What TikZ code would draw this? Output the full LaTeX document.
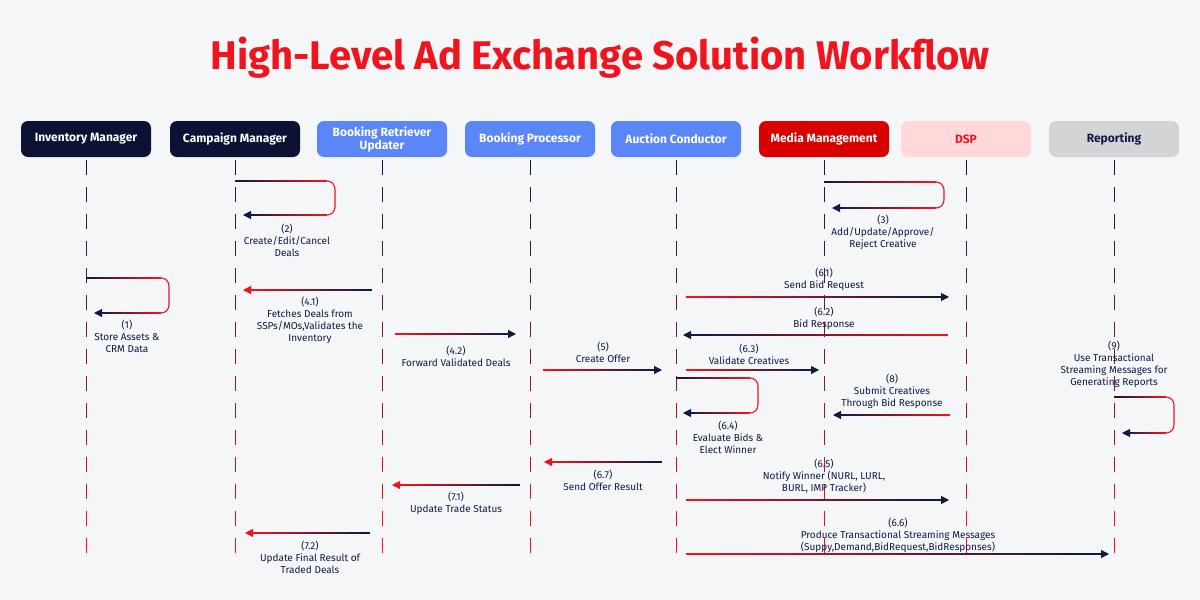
\documentclass[tikz,border=0pt]{standalone}
\usepackage{fontspec}
\setmainfont{Fira Sans}
\usetikzlibrary{calc,arrows.meta}
\definecolor{nav}{HTML}{0F1A45}
\definecolor{rd}{HTML}{F0141E}
\definecolor{bg}{HTML}{F5F6F8}
\definecolor{dk}{HTML}{0B1233}
\definecolor{bl}{HTML}{5B86F7}
\definecolor{mm}{HTML}{D90000}
\definecolor{dsp}{HTML}{FFD9D9}
\definecolor{rep}{HTML}{D3D4D6}
\newcommand\gseg[4]{\foreach \i in {0,...,11}{\pgfmathsetmacro\a{\i/12}\pgfmathsetmacro\b{(\i+1)/12}\pgfmathtruncatemacro\p{100-\i*100/11}
 \draw[line width=1.1pt,color=#3!\p!#4] ($(#1)!\a!(#2)$) -- ($(#1)!\b!(#2)$);}}
\newcommand\garr[4]{\gseg{#1}{$(#1)!0.97!(#2)$}{#3}{#4}\draw[line width=1.1pt,#4,-{Triangle[length=8pt,width=8pt]}] ($(#1)!0.96!(#2)$) -- (#2);}
\newcommand\gloop[4]{% start, right x, bottom y, end x
 \coordinate (ls) at (#1);
 \coordinate (lt) at ($(#1-|#2,0)+(-8,0)$);
 \coordinate (lb) at ($(#2,#3)+(-8,0)$);
 \coordinate (le) at (#4,#3);
 \gseg{ls}{lt}{nav}{rd}
 \draw[line width=1.1pt,rd,rounded corners=8pt] (lt) -- (#2,0|-ls) -- (#2,#3) -- (lb);
 \garr{lb}{le}{rd}{nav}}
\tikzset{hd/.style={rounded corners=7pt,minimum width=130pt,minimum height=36pt,align=center,font=\bfseries\fontsize{12}{13}\selectfont},
 lb/.style={align=center,text=nav,font=\fontsize{10}{12}\selectfont,inner sep=0}}
\begin{document}
\begin{tikzpicture}[x=1pt,y=-1pt]
\fill[bg] (0,0) rectangle (1200,600);
\node[text=rd,font=\bfseries\fontsize{40}{42}\selectfont] (title) at (600,58) {High-Level Ad Exchange Solution Workflow};
\foreach \n/\x/\f/\t/\s in {im/86/dk/white/Inventory Manager,cm/235/dk/white/Campaign Manager,br/382/bl/white/{Booking Retriever\\Updater},bp/530/bl/white/Booking Processor,ac/676/bl/white/Auction Conductor,md/824/mm/white/Media Management,ds/966/dsp/rd/DSP,rp/1114/rep/nav/Reporting}{
 \node[hd,fill=\f,text=\t] (\n) at (\x,139) {\s};
 \foreach \k in {0,...,14}{\pgfmathsetmacro\ya{160+\k*27}\pgfmathsetmacro\yb{min(\ya+15,568)}\pgfmathtruncatemacro\p{100-\k*100/14}
  \draw[line width=0.9pt,color=nav!\p!rd] (\x,\ya) -- (\x,\yb);}
}
% (2)
\gloop{235,181}{335}{215}{243}
\node[lb] (l2) at (287,240) {(2)\\Create/Edit/Cancel\\Deals};
% (3)
\gloop{824,182}{944}{208}{832}
\node[lb] (l3) at (883,232) {(3)\\Add/Update/Approve/\\Reject Creative};
% (1)
\gloop{86,278}{169}{313}{94}
\node[lb] (l1) at (127,336) {(1)\\Store Assets \&\\CRM Data};
% (4.1)
\coordinate (a) at (372,290); \coordinate (b) at (243,290); \garr{a}{b}{nav}{rd}
\node[lb] (l41) at (310,320) {(4.1)\\Fetches Deals from\\SSPs/MOs,Validates the\\Inventory};
% (4.2)
\coordinate (a) at (395,334); \coordinate (b) at (516,334); \garr{a}{b}{rd}{nav}
\node[lb] (l42) at (456,356) {(4.2)\\Forward Validated Deals};
% (5)
\coordinate (a) at (543,370); \coordinate (b) at (662,370); \garr{a}{b}{rd}{nav}
\node[lb] (l5) at (603,352) {(5)\\Create Offer};
% (6.1)
\coordinate (a) at (686,297); \coordinate (b) at (949,297); \garr{a}{b}{rd}{nav}
\node[lb] (l61) at (824,279) {(6.1)\\Send Bid Request};
% (6.2)
\coordinate (a) at (948,335); \coordinate (b) at (683,335); \garr{a}{b}{rd}{nav}
\node[lb] (l62) at (824,318) {(6.2)\\Bid Response};
% (6.3)
\coordinate (a) at (686,370); \coordinate (b) at (819,370); \garr{a}{b}{rd}{nav}
\node[lb] (l63) at (749,354) {(6.3)\\Validate Creatives};
% (6.4)
\gloop{676,378}{758}{413}{683}
\node[lb] (l64) at (728,437) {(6.4)\\Evaluate Bids \&\\Elect Winner};
% (8)
\coordinate (a) at (950,415); \coordinate (b) at (833,415); \garr{a}{b}{rd}{nav}
\node[lb] (l8) at (892,391) {(8)\\Submit Creatives\\Through Bid Response};
% (9)
\gloop{1114,397}{1174}{433}{1122}
\node[lb] (l9) at (1114,364) {(9)\\Use Transactional\\Streaming Messages for\\Generating Reports};
% (6.7)
\coordinate (a) at (662,462); \coordinate (b) at (544,462); \garr{a}{b}{nav}{rd}
\node[lb] (l67) at (603,480) {(6.7)\\Send Offer Result};
% (6.5)
\coordinate (a) at (686,500); \coordinate (b) at (949,500); \garr{a}{b}{rd}{nav}
\node[lb] (l65) at (824,476) {(6.5)\\Notify Winner (NURL, LURL,\\BURL, IMP Tracker)};
% (7.1)
\coordinate (a) at (520,485); \coordinate (b) at (392,485); \garr{a}{b}{nav}{rd}
\node[lb] (l71) at (456,503) {(7.1)\\Update Trade Status};
% (7.2)
\coordinate (a) at (370,533); \coordinate (b) at (245,533); \garr{a}{b}{nav}{rd}
\node[lb] (l72) at (310,557) {(7.2)\\Update Final Result of\\Traded Deals};
% (6.6)
\coordinate (a) at (686,554); \coordinate (b) at (1109,554); \garr{a}{b}{rd}{nav}
\node[lb] (l66) at (898,535) {(6.6)\\Produce Transactional Streaming Messages\\(Suppy,Demand,BidRequest,BidResponses)};
\end{tikzpicture}
\end{document}
